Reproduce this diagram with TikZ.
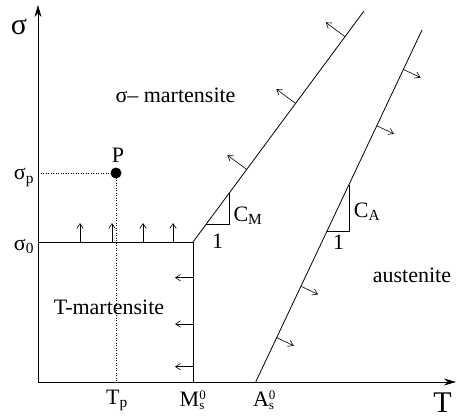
\documentclass[tikz,border=0pt]{standalone}
\usepackage{fontspec}
\setmainfont{Liberation Serif}
\usetikzlibrary{calc,arrows.meta}

\newcommand{\subsup}[3]{#1{\fontsize{13}{13}\selectfont\rlap{\raisebox{7pt}{#3}}\raisebox{-3.5pt}{#2}}}

\tikzset{
  lab/.style={font=\fontsize{22}{24}\selectfont, inner sep=0pt},
  biglab/.style={font=\fontsize{30}{32}\selectfont, inner sep=0pt},
  flow/.style={-{Straight Barb[length=5pt,width=6.5pt]}, line width=0.6pt},
}

\begin{document}
\begin{tikzpicture}[x=1pt, y=1pt, line width=0.8pt]
  \useasboundingbox (-38,-36) rectangle (419,382);
  \coordinate (O) at (0,0);
  \coordinate (Ms) at (155,0);
  \coordinate (K) at (155,140);
  \coordinate (S0) at (0,140);
  \coordinate (Mtop) at (326,371);
  \coordinate (As) at (217.7,0);
  \coordinate (Atop) at (384,352);
  \coordinate (P) at (78,209);
  % axes
  \draw[->, >={Stealth[length=12pt,width=7pt]}] (O) -- (418,0);
  \draw[->, >={Stealth[length=12pt,width=7pt]}] (O) -- (0,377);
  % phase boundaries
  \draw (S0) -- (K) -- (Ms);
  \draw (K) -- (Mtop);
  \draw (As) -- (Atop);
  \draw[dotted, line width=0.5pt] (0,209) -- (P) -- (78,0);
  \fill (P) circle (5.5);
  % slope triangles
  \draw ($(K)!0.076!(Mtop)$) -| ($(K)!0.21!(Mtop)$);
  \draw ($(As)!0.429!(Atop)$) -| ($(As)!0.561!(Atop)$);
  % normals
  \foreach \t in {0.314,0.6,0.889} {
    \coordinate (m) at ($(K)!\t!(Mtop)$);
    \draw[flow] (m) -- ($(m)!24pt!90:(Mtop)$);
  }
  \foreach \t in {0.126,0.272,0.728,0.888} {
    \coordinate (a) at ($(As)!\t!(Atop)$);
    \draw[flow] (a) -- ($(a)!19pt!-90:(Atop)$);
  }
  \foreach \x in {42,74,105,135}
    \draw[flow] (\x,140) -- (\x,159);
  \foreach \y in {15.3,58,104.3}
    \draw[flow] (155,\y) -- (137,\y);
  % labels
  \node[biglab] (sig) at (-19,355) {σ};
  \node[biglab] (tax) at (404.5,-21) {T};
  \node[lab] (sigp) at (-14,204.5) {σ\textsubscript{p}};
  \node[lab] (sig0) at (-14,136) {σ\textsubscript{0}};
  \node[lab] (tp) at (79,-18) {T\textsubscript{p}};
  \node[lab] (ms) at (154,-18) {\subsup{M}{s}{0}};
  \node[lab] (as) at (225.5,-18) {\subsup{A}{s}{0}};
  \node[lab] (p) at (80,227) {P};
  \node[lab] (cm) at (210,166) {C\textsubscript{M}};
  \node[lab] (onem) at (179.5,141) {1};
  \node[lab] (ca) at (329,170) {C\textsubscript{A}};
  \node[lab] (onea) at (300.5,139.5) {1};
  \node[lab] (smart) at (137.5,287) {σ– martensite};
  \node[lab] (tmart) at (71,75) {T-martensite};
  \node[lab] (aus) at (374,107) {austenite};
\end{tikzpicture}
\end{document}
